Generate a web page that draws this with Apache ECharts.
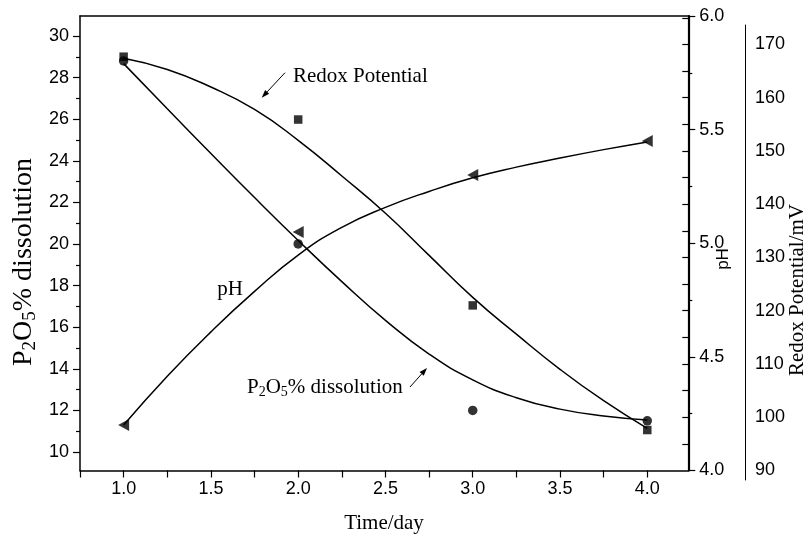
<!DOCTYPE html>
<html>
<head>
<meta charset="utf-8">
<script src="https://cdn.jsdelivr.net/npm/echarts@6/dist/echarts.min.js"></script>
<style>
  html, body { margin: 0; padding: 0; background: #fff; }
  #chart { width: 808px; height: 540px; }
</style>
</head>
<body>
<div id="chart"></div>
<script>
// Measured values (days 1-4)
const days = [1, 2, 3, 4];
const p2o5 = [28.8, 20.0, 12.0, 11.5];
const redox = [167.7, 155.9, 121.0, 97.6];
const ph = [4.20, 5.05, 5.30, 5.45];

// Fitted curves, read at quarter-day steps
const fitDays = [1, 1.25, 1.5, 1.75, 2, 2.25, 2.5, 2.75, 3, 3.25, 3.5, 3.75, 4];
const p2o5Fit = [28.67, 26.50, 24.35, 22.23, 20.17, 18.19, 16.33, 14.71, 13.47, 12.61, 12.06, 11.73, 11.54];
const redoxFit = [167.4, 165.3, 162.0, 157.8, 152.0, 145.3, 138.3, 130.4, 122.5, 115.6, 109.0, 103.1, 97.9];
const phFit = [4.200, 4.415, 4.610, 4.788, 4.948, 5.070, 5.158, 5.228, 5.288, 5.335, 5.375, 5.412, 5.446];

// Tick labels
const xTickLabels = [1.0, 1.5, 2.0, 2.5, 3.0, 3.5, 4.0];
const xTicks = [0.75, 1, 1.25, 1.5, 1.75, 2, 2.25, 2.5, 2.75, 3, 3.25, 3.5, 3.75, 4];
const leftMajor = [10, 12, 14, 16, 18, 20, 22, 24, 26, 28, 30];
const leftMinor = [11, 13, 15, 17, 19, 21, 23, 25, 27, 29];
const phMajor = [4.0, 4.5, 5.0, 5.5, 6.0];
const phMinor = [4.25, 4.75, 5.25, 5.75];
const redoxTicks = [95, 100, 105, 110, 115, 120, 125, 130, 135, 140, 145, 150, 155, 160, 165, 170, 175];
const redoxLabels = [90, 100, 110, 120, 130, 140, 150, 160, 170];

const SANS = '"Liberation Sans", Arial, sans-serif';
const SERIF = '"Liberation Serif", "Times New Roman", serif';
const BLACK = '#000';

const pairs = (xs, ys) => xs.map((x, i) => [x, ys[i]]);

const chart = echarts.init(document.getElementById('chart'), null, { renderer: 'canvas' });

const lineStyleAxis = { color: BLACK, width: 1.5 };
const labelStyle = { color: BLACK, fontFamily: SANS, fontSize: 18 };

// Straight annotation arrow with a filled head at (x2, y2)
function arrow(x1, y1, x2, y2) {
  const dx = x2 - x1, dy = y2 - y1;
  const len = Math.hypot(dx, dy);
  const ux = dx / len, uy = dy / len;
  const hl = 8, hw = 2.8;
  const bx = x2 - ux * hl, by = y2 - uy * hl;
  return [
    { type: 'line', shape: { x1: x1, y1: y1, x2: bx, y2: by }, style: { stroke: BLACK, lineWidth: 1 } },
    { type: 'polygon', shape: { points: [[x2, y2], [bx - uy * hw, by + ux * hw], [bx + uy * hw, by - ux * hw]] }, style: { fill: BLACK } }
  ];
}

function p2o5Rich(size) {
  return {
    m: { fontFamily: SERIF, fontSize: size, lineHeight: Math.round(size * 1.15), verticalAlign: 'middle', fill: BLACK },
    s: { fontFamily: SERIF, fontSize: Math.round(size * 0.67), lineHeight: Math.round(size * 0.67), verticalAlign: 'bottom', fill: BLACK }
  };
}
const p2o5Text = '{m|P}{s|2}{m|O}{s|5}{m|% dissolution}';

const option = {
  animation: false,
  backgroundColor: '#fff',
  grid: [
    { left: 80, right: 119.7, top: 16, bottom: 69.5 },
    { left: 80, right: 119.7, top: 25, bottom: 60 }
  ],
  xAxis: [
    {
      type: 'value', gridIndex: 0, position: 'bottom', min: 0.75, max: 4.235,
      axisLine: { lineStyle: lineStyleAxis },
      axisTick: { show: true, length: 7, customValues: xTicks, lineStyle: { color: BLACK, width: 1.2 } },
      axisLabel: { customValues: xTickLabels, margin: 10, formatter: v => v.toFixed(1), ...labelStyle },
      splitLine: { show: false }
    },
    {
      type: 'value', gridIndex: 0, position: 'top', min: 0.75, max: 4.235,
      axisLine: { lineStyle: lineStyleAxis }, axisTick: { show: false }, axisLabel: { show: false }, splitLine: { show: false }
    },
    {
      type: 'value', gridIndex: 1, min: 0.75, max: 4.235, show: false
    }
  ],
  yAxis: [
    {
      type: 'value', gridIndex: 0, position: 'left', min: 9.11, max: 30.96,
      axisLine: { show: true, lineStyle: lineStyleAxis },
      axisTick: { show: true, length: 7, customValues: leftMajor, lineStyle: { color: BLACK, width: 1.2 } },
      axisLabel: { customValues: leftMajor, margin: 11, ...labelStyle },
      splitLine: { show: false }
    },
    {
      type: 'value', gridIndex: 0, position: 'left', min: 9.11, max: 30.96,
      axisLine: { show: false },
      axisTick: { show: true, length: 4, customValues: leftMinor, lineStyle: { color: BLACK, width: 1.2 } },
      axisLabel: { show: false }, splitLine: { show: false }
    },
    {
      type: 'value', gridIndex: 0, position: 'right', min: 4, max: 6,
      axisLine: { show: true, lineStyle: { color: BLACK, width: 2.2 } },
      axisTick: { show: true, length: 7, customValues: phMajor, lineStyle: { color: BLACK, width: 1.2 } },
      axisLabel: { customValues: phMajor, margin: 11, formatter: v => v.toFixed(1), ...labelStyle },
      splitLine: { show: false }
    },
    {
      type: 'value', gridIndex: 0, position: 'right', min: 4, max: 6,
      axisLine: { show: false },
      axisTick: { show: true, length: 4, customValues: phMinor, lineStyle: { color: BLACK, width: 1.2 } },
      axisLabel: { show: false }, splitLine: { show: false }
    },
    {
      type: 'value', gridIndex: 0, position: 'right', min: 90, max: 175.34,
      axisLine: { show: false },
      axisTick: { show: true, inside: true, length: 6, customValues: redoxTicks, lineStyle: { color: BLACK, width: 1.2 } },
      axisLabel: { show: false }, splitLine: { show: false }
    },
    {
      type: 'value', gridIndex: 1, position: 'right', offset: 56.7, min: 88.22, max: 173.65,
      axisLine: { show: true, lineStyle: { color: BLACK, width: 1 } },
      axisTick: { show: false },
      axisLabel: { customValues: redoxLabels, margin: 10, ...labelStyle },
      splitLine: { show: false }
    }
  ],
  series: [
    {
      name: 'P2O5 fit', type: 'line', xAxisIndex: 0, yAxisIndex: 0, smooth: true,
      showSymbol: false, data: pairs(fitDays, p2o5Fit), lineStyle: { color: BLACK, width: 1.5 }, z: 3
    },
    {
      name: 'Redox fit', type: 'line', xAxisIndex: 0, yAxisIndex: 4, smooth: true,
      showSymbol: false, data: pairs(fitDays, redoxFit), lineStyle: { color: BLACK, width: 1.5 }, z: 3
    },
    {
      name: 'pH fit', type: 'line', xAxisIndex: 0, yAxisIndex: 2, smooth: true,
      showSymbol: false, data: pairs(fitDays, phFit), lineStyle: { color: BLACK, width: 1.5 }, z: 3
    },
    {
      name: 'P2O5', type: 'scatter', xAxisIndex: 0, yAxisIndex: 0, symbol: 'circle', symbolSize: 9.5,
      data: pairs(days, p2o5), itemStyle: { color: BLACK }, z: 4
    },
    {
      name: 'Redox', type: 'scatter', xAxisIndex: 0, yAxisIndex: 4, symbol: 'rect', symbolSize: 8.5,
      data: pairs(days, redox), itemStyle: { color: BLACK }, z: 4
    },
    {
      name: 'pH', type: 'scatter', xAxisIndex: 0, yAxisIndex: 2, symbol: 'triangle', symbolSize: [12, 11], symbolRotate: 90,
      data: pairs(days, ph), itemStyle: { color: BLACK }, z: 4
    }
  ],
  graphic: [
    { type: 'text', x: 384, y: 523, style: { text: 'Time/day', font: '21px ' + SERIF, fill: BLACK, align: 'center', verticalAlign: 'middle' } },
    { type: 'text', x: 24, y: 262, rotation: Math.PI / 2, style: { text: p2o5Text, rich: p2o5Rich(28), align: 'center', verticalAlign: 'middle' } },
    { type: 'text', x: 723, y: 259, rotation: Math.PI / 2, style: { text: 'pH', font: '17px ' + SANS, fill: BLACK, align: 'center', verticalAlign: 'middle' } },
    { type: 'text', x: 797, y: 290, rotation: Math.PI / 2, style: { text: 'Redox Potential/mV', font: '21px ' + SERIF, fill: BLACK, align: 'center', verticalAlign: 'middle' } },
    { type: 'text', x: 293, y: 76, style: { text: 'Redox Potential', font: '21px ' + SERIF, fill: BLACK, align: 'left', verticalAlign: 'middle' } },
    { type: 'text', x: 230, y: 289, style: { text: 'pH', font: '21px ' + SERIF, fill: BLACK, align: 'center', verticalAlign: 'middle' } },
    { type: 'text', x: 247, y: 387, style: { text: p2o5Text, rich: p2o5Rich(21), align: 'left', verticalAlign: 'middle' } },
    ...arrow(285, 72.7, 261.7, 97.7),
    ...arrow(410, 387, 427, 368)
  ]
};

chart.setOption(option);
</script>
</body>
</html>
